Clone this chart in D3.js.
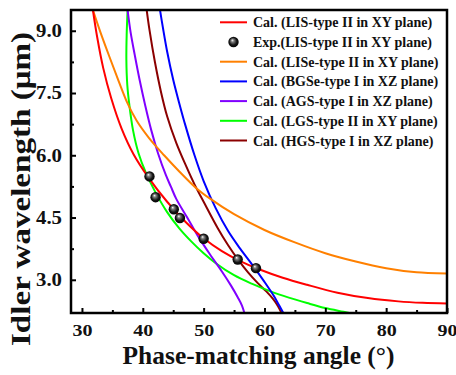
<!DOCTYPE html>
<html>
<head>
<meta charset="utf-8">
<script src="https://cdn.jsdelivr.net/npm/d3@7"></script>
<style>
  html, body { margin: 0; padding: 0; background: #fff; }
  svg { display: block; }
  text { font-family: "Liberation Serif", "Times New Roman", serif; font-weight: bold; fill: #111; }
</style>
</head>
<body>
<svg id="chart" width="456" height="375"></svg>
<script>
// ---- data (phase-matching angle in degrees, idler wavelength in µm) ----
const xTicks = [30, 40, 50, 60, 70, 80, 90];
const xMinorTicks = [35, 45, 55, 65, 75, 85];
const yTicks = [3.0, 4.5, 6.0, 7.5, 9.0];
const yMinorTicks = [3.75, 5.25, 6.75, 8.25];

const lisCal = [[31.8,9.5],[32.5,8.85],[33.5,8.10],[34.8,7.38],[36.5,6.65],[38.5,6.02],[41.0,5.45],[44.0,4.88],[47.0,4.40],[50.0,4.00],[53.0,3.69],[56.0,3.45],[59.0,3.26],[63.0,3.05],[67.0,2.88],[72.0,2.69],[77.0,2.56],[82.0,2.48],[86.0,2.445],[90.0,2.43]];
const lisExpAngle = [41.1, 42.1, 45.1, 46.1, 50.0, 55.6, 58.6];
const lisExpWave  = [5.49, 4.99, 4.70, 4.49, 3.99, 3.49, 3.28];
const liseCal = [[31.8,9.5],[33.0,8.98],[34.5,8.38],[36.0,7.80],[37.5,7.25],[39.0,6.83],[41.0,6.42],[43.5,6.00],[46.0,5.61],[48.7,5.22],[51.0,4.96],[55.0,4.58],[60.0,4.20],[65.0,3.90],[70.0,3.64],[75.0,3.44],[80.0,3.28],[85.0,3.18],[90.0,3.15]];
const bgseCal = [[42.83,9.5],[43.3,9.08],[44.0,8.50],[45.0,7.82],[46.0,7.25],[47.0,6.72],[48.5,6.00],[50.0,5.38],[52.0,4.72],[54.0,4.18],[56.0,3.75],[58.0,3.36],[60.0,2.95],[61.5,2.62],[62.5,2.36],[63.1,2.2]];
const agsCal = [[37.5,9.5],[38.0,8.96],[38.7,8.40],[39.5,7.80],[40.4,7.20],[41.4,6.60],[42.5,6.05],[43.8,5.52],[44.6,5.25],[45.5,4.95],[47.3,4.50],[49.0,4.07],[51.0,3.62],[53.0,3.20],[54.5,2.86],[55.6,2.58],[56.3,2.38],[56.7,2.2]];
const lgsCal = [[37.5,9.5],[37.35,8.9],[37.3,8.3],[37.45,7.7],[37.8,7.2],[38.4,6.6],[39.3,6.05],[40.5,5.58],[42.0,5.13],[44.0,4.63],[46.0,4.24],[48.0,3.92],[50.0,3.64],[52.0,3.40],[55.0,3.11],[58.0,2.90],[61.0,2.72],[64.0,2.57],[67.0,2.44],[70.0,2.32],[73.0,2.23],[75.0,2.17]];
const hgsCal = [[40.64,9.5],[41.1,9.02],[42.0,8.24],[43.0,7.52],[44.0,6.94],[45.5,6.30],[47.0,5.78],[48.5,5.30],[50.0,4.88],[52.3,4.25],[54.0,3.84],[55.6,3.50],[57.3,3.18],[58.9,2.92],[60.3,2.72],[61.4,2.54],[62.2,2.37],[62.8,2.2]];

const seriesNames = [
  "Cal. (LIS-type II in XY plane)",
  "Exp.(LIS-type II in XY plane)",
  "Cal. (LISe-type II in XY plane)",
  "Cal. (BGSe-type I in XZ plane)",
  "Cal. (AGS-type I in XZ plane)",
  "Cal. (LGS-type II in XY plane)",
  "Cal. (HGS-type I in XZ plane)"
];
const seriesColors = ["#ff0000", "#000000", "#ff8000", "#0000ff", "#8000ff", "#00ff00", "#8b0000"];

// ---- layout ----
const svg = d3.select("#chart");
const mLeft = 71, mRight = 447, mTop = 10, mBottom = 313;
const x = d3.scaleLinear().domain([28.2, 90]).range([mLeft, mRight]);
const y = d3.scaleLinear().domain([2.2, 9.5]).range([mBottom, mTop]);

const defs = svg.append("defs");
defs.append("clipPath").attr("id", "plotclip")
  .append("rect").attr("x", mLeft).attr("y", mTop).attr("width", mRight - mLeft).attr("height", mBottom - mTop);
const grad = defs.append("radialGradient").attr("id", "ball")
  .attr("cx", "50%").attr("cy", "50%").attr("r", "55%").attr("fx", "38%").attr("fy", "32%");
grad.append("stop").attr("offset", "0%").attr("stop-color", "#ffffff");
grad.append("stop").attr("offset", "25%").attr("stop-color", "#808080");
grad.append("stop").attr("offset", "65%").attr("stop-color", "#151515");
grad.append("stop").attr("offset", "100%").attr("stop-color", "#000000");

// ---- curves ----
const line = d3.line().x(d => x(d[0])).y(d => y(d[1])).curve(d3.curveCatmullRom.alpha(0.5));
const plot = svg.append("g").attr("clip-path", "url(#plotclip)");
const curves = [
  [hgsCal, seriesColors[6]],
  [lgsCal, seriesColors[5]],
  [agsCal, seriesColors[4]],
  [bgseCal, seriesColors[3]],
  [liseCal, seriesColors[2]],
  [lisCal, seriesColors[0]]
];
curves.forEach(([data, color]) => {
  plot.append("path").datum(data).attr("d", line)
    .attr("fill", "none").attr("stroke", color).attr("stroke-width", 2);
});
plot.selectAll("circle.exp").data(d3.range(lisExpAngle.length)).join("circle")
  .attr("class", "exp")
  .attr("cx", i => x(lisExpAngle[i])).attr("cy", i => y(lisExpWave[i]))
  .attr("r", 5.2).attr("fill", "url(#ball)");

// ---- axes ----
const xAxis = d3.axisBottom(x).tickValues(xTicks).tickSize(-5).tickPadding(11).tickFormat(d3.format("d"));
const gx = svg.append("g").attr("transform", `translate(0,${mBottom})`).call(xAxis);
gx.select(".domain").remove();
gx.selectAll(".tick line").attr("stroke", "#000").attr("stroke-width", 2);
gx.selectAll(".tick text").style("font-size", "17px").style("font-family", "'Liberation Serif', serif")
  .style("font-weight", "bold").attr("fill", "#111")
  .attr("textLength", 20).attr("lengthAdjust", "spacingAndGlyphs");
const gxm = svg.append("g").attr("transform", `translate(0,${mBottom})`)
  .call(d3.axisBottom(x).tickValues(xMinorTicks).tickSize(-3).tickFormat(""));
gxm.select(".domain").remove();
gxm.selectAll(".tick line").attr("stroke", "#000").attr("stroke-width", 2);

const yAxis = d3.axisLeft(y).tickValues(yTicks).tickSize(-5).tickPadding(9).tickFormat(d3.format(".1f"));
const gy = svg.append("g").attr("transform", `translate(${mLeft},0)`).call(yAxis);
gy.select(".domain").remove();
gy.selectAll(".tick line").attr("stroke", "#000").attr("stroke-width", 2);
gy.selectAll(".tick text").style("font-size", "18px").style("font-family", "'Liberation Serif', serif")
  .style("font-weight", "bold").attr("fill", "#111")
  .attr("textLength", 26).attr("lengthAdjust", "spacingAndGlyphs");
const gym = svg.append("g").attr("transform", `translate(${mLeft},0)`)
  .call(d3.axisLeft(y).tickValues(yMinorTicks).tickSize(-3).tickFormat(""));
gym.select(".domain").remove();
gym.selectAll(".tick line").attr("stroke", "#000").attr("stroke-width", 2);

// frame
svg.append("rect").attr("x", mLeft).attr("y", mTop).attr("width", mRight - mLeft).attr("height", mBottom - mTop)
  .attr("fill", "none").attr("stroke", "#000").attr("stroke-width", 2.5);

// titles
svg.append("text").attr("x", 258.5).attr("y", 364).attr("text-anchor", "middle")
  .style("font-size", "25px").attr("textLength", 272).attr("lengthAdjust", "spacingAndGlyphs")
  .text("Phase-matching angle (°)");
svg.append("text").attr("transform", "translate(30,189) rotate(-90)").attr("text-anchor", "middle")
  .style("font-size", "27px").attr("textLength", 314).attr("lengthAdjust", "spacingAndGlyphs")
  .text("Idler wavelength (μm)");

// ---- legend ----
const legend = svg.append("g");
seriesNames.forEach((name, i) => {
  const ry = 22.3 + i * 19.7;
  if (i === 1) {
    legend.append("circle").attr("cx", 233.5).attr("cy", ry).attr("r", 5.2).attr("fill", "url(#ball)");
  } else {
    legend.append("line").attr("x1", 220).attr("x2", 247).attr("y1", ry).attr("y2", ry)
      .attr("stroke", seriesColors[i]).attr("stroke-width", 2);
  }
  legend.append("text").attr("x", 253).attr("y", ry + 5).style("font-size", "14px").text(name);
});
</script>
</body>
</html>
